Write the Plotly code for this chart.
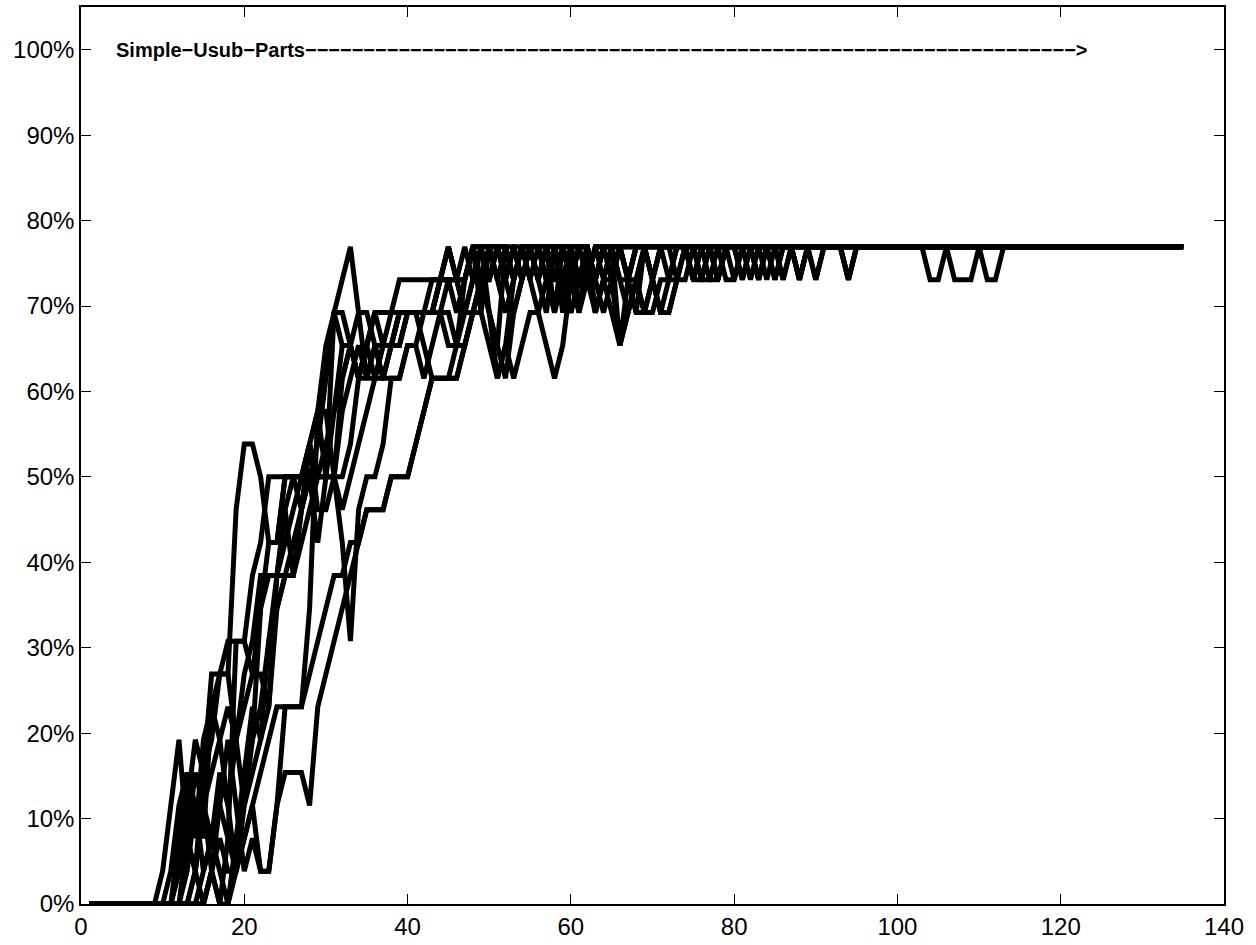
import plotly.graph_objects as go

# Parts solved (out of 26) per run, for generations 1..135
TOTAL_PARTS = 26
generations = list(range(1, 136))

run_01 = [0,0,0,0,0,0,0,0,0,1,3,5,2,1,4,
          5,7,7,12,14,14,13,11,11,13,13,12,13,14,16,
          18,18,17,16,17,18,17,18,18,18,18,18,18,18,19,
          18,19,20,19,20,20,19,20,19,20,20,19,20,20,19,
          20,20,19,20,20,20,20,20,20,20,20,20,20,20,20,
          20,20,20,20,20,20,20,20,20,20,20,20,20,20,20,
          20,20,20,20,20,20,20,20,20,20,20,20,20,20,20,
          20,20,20,20,20,20,20,20,20,20,20,20,20,20,20,
          20,20,20,20,20,20,20,20,20,20,20,20,20,20,20]
run_02 = [0,0,0,0,0,0,0,0,0,0,0,1,3,5,4,
          7,7,8,8,8,10,11,13,13,13,13,13,14,15,13,
          18,19,20,18,16,17,16,17,18,18,18,18,18,19,20,
          19,20,19,20,18,17,20,19,20,20,20,19,20,18,20,
          20,19,20,20,19,20,20,20,20,20,20,20,20,20,20,
          20,20,20,20,20,20,20,20,20,20,20,20,20,20,20,
          20,20,20,20,20,20,20,20,20,20,20,20,20,20,20,
          20,20,20,20,20,20,20,20,20,20,20,20,20,20,20,
          20,20,20,20,20,20,20,20,20,20,20,20,20,20,20]
run_03 = [0,0,0,0,0,0,0,0,0,0,0,0,1,3,1,
          2,4,3,5,6,7,9,10,10,12,10,12,13,11,13,
          13,11,8,12,13,13,14,16,16,17,17,16,17,18,18,
          17,19,20,18,20,19,18,19,20,20,19,20,18,20,19,
          20,20,19,20,20,20,19,20,20,20,20,20,20,20,20,
          20,20,20,20,20,20,20,20,20,20,20,20,20,20,20,
          20,20,20,20,20,20,20,20,20,20,20,20,20,20,20,
          20,20,20,20,20,20,20,20,20,20,20,20,20,20,20,
          20,20,20,20,20,20,20,20,20,20,20,20,20,20,20]
run_04 = [0,0,0,0,0,0,0,0,0,0,0,0,0,0,0,
          1,0,0,1,2,3,1,1,3,4,4,4,3,6,7,
          8,9,10,11,12,12,12,13,13,13,14,15,16,16,16,
          16,17,18,19,18,17,16,18,19,20,19,18,20,19,20,
          19,20,18,19,20,17,19,18,20,19,18,19,20,20,20,
          20,20,19,20,20,20,20,19,20,20,20,20,20,20,20,
          20,20,20,20,20,20,20,20,20,20,20,20,20,20,20,
          20,20,20,20,20,20,20,20,20,20,20,20,20,20,20,
          20,20,20,20,20,20,20,20,20,20,20,20,20,20,20]
run_05 = [0,0,0,0,0,0,0,0,0,0,0,0,0,1,0,
          1,3,5,3,1,2,1,1,3,6,6,6,9,15,15,
          13,12,13,14,15,16,17,17,18,18,18,18,18,19,19,
          19,19,20,19,18,16,17,19,20,19,18,17,16,17,19,
          18,20,19,18,19,17,18,19,20,19,18,18,19,20,19,
          19,20,19,20,20,19,20,20,20,19,20,20,19,20,20,
          20,20,20,20,20,20,20,20,20,20,20,20,20,20,20,
          20,20,20,20,20,20,20,20,20,20,20,20,20,20,20,
          20,20,20,20,20,20,20,20,20,20,20,20,20,20,20]
run_06 = [0,0,0,0,0,0,0,0,0,0,0,0,0,0,1,
          2,1,0,2,4,5,6,8,10,10,11,12,14,13,13,
          13,15,16,17,16,17,17,17,17,18,18,18,18,19,20,
          19,18,19,19,20,20,19,20,20,19,20,20,19,19,18,
          19,19,20,20,19,20,19,19,18,18,19,19,20,20,19,
          20,20,19,20,19,20,20,19,20,20,19,20,19,20,19,
          20,20,20,19,20,20,20,20,20,20,20,20,20,20,20,
          20,20,20,20,20,20,20,20,20,20,20,20,20,20,20,
          20,20,20,20,20,20,20,20,20,20,20,20,20,20,20]
run_07 = [0,0,0,0,0,0,0,0,0,0,1,3,4,2,5,
          6,7,7,5,3,5,9,11,11,13,13,13,14,15,17,
          18,17,17,16,17,16,16,17,18,18,18,18,19,19,19,
          19,19,20,20,20,20,19,20,19,20,19,20,20,20,19,
          20,20,19,20,20,19,19,20,20,20,20,20,20,20,20,
          20,20,20,20,20,20,20,20,20,20,20,20,20,20,20,
          20,20,20,20,20,20,20,20,20,20,20,20,20,20,20,
          20,20,20,20,20,20,20,20,20,20,20,20,20,20,20,
          20,20,20,20,20,20,20,20,20,20,20,20,20,20,20]
run_08 = [0,0,0,0,0,0,0,0,0,0,0,0,2,4,3,
          1,0,2,8,8,7,7,6,9,10,10,12,14,12,12,
          13,16,17,16,16,16,17,17,17,18,18,17,16,16,16,
          17,18,18,19,19,20,20,19,20,20,20,19,20,20,19,
          20,20,18,19,19,20,19,18,18,19,20,20,20,20,20,
          20,20,20,20,20,20,20,20,20,20,20,20,20,20,20,
          20,20,20,20,20,20,20,20,20,20,20,20,20,20,20,
          20,20,20,20,20,20,20,20,20,20,20,20,20,20,20,
          20,20,20,20,20,20,20,20,20,20,20,20,20,20,20]
run_09 = [0,0,0,0,0,0,0,0,0,0,0,1,2,1,3,
          4,5,6,5,7,8,10,10,10,11,12,13,14,13,13,
          13,13,14,16,17,18,18,18,18,18,18,18,18,19,20,
          19,18,19,20,20,19,20,19,20,20,19,20,19,20,20,
          19,20,19,20,20,20,19,20,20,19,20,20,19,20,20,
          19,20,19,20,20,20,20,20,20,20,20,20,20,20,20,
          20,20,20,20,20,20,20,20,20,20,20,20,20,20,20,
          20,20,20,20,20,20,20,20,20,20,20,20,20,20,20,
          20,20,20,20,20,20,20,20,20,20,20,20,20,20,20]
run_10 = [0,0,0,0,0,0,0,0,0,0,0,0,0,0,0,
          1,2,1,1,2,3,4,5,6,6,6,6,7,8,9,
          10,10,11,11,12,12,12,13,13,13,14,15,16,16,16,
          16,17,18,18,17,16,17,16,17,18,18,19,18,19,18,
          19,19,20,19,18,17,18,19,18,19,18,18,19,19,20,
          19,19,20,19,19,20,19,20,19,20,19,20,19,20,20,
          20,20,20,19,20,20,20,20,20,20,20,20,20,20,20,
          20,20,20,20,20,20,20,20,20,20,20,20,20,20,20,
          20,20,20,20,20,20,20,20,20,20,20,20,20,20,20]
run_11 = [0,0,0,0,0,0,0,0,0,0,0,2,4,3,2,
          6,5,3,1,4,6,5,6,10,12,13,13,13,13,13,
          15,17,17,16,17,18,18,18,19,19,19,19,19,19,19,
          19,19,20,20,19,20,20,20,19,20,20,20,19,20,20,
          20,20,19,20,20,20,20,20,20,20,20,20,20,20,20,
          20,20,20,20,20,20,20,20,20,20,20,20,20,20,20,
          20,20,20,20,20,20,20,20,20,20,20,20,20,20,20,
          20,20,20,20,20,20,20,20,20,20,20,20,20,20,20,
          20,20,20,20,20,20,20,20,20,20,20,20,20,20,20]
run_12 = [0,0,0,0,0,0,0,0,0,0,0,0,0,1,3,
          2,3,2,1,3,4,5,8,9,10,10,11,12,13,14,
          15,16,17,18,18,17,16,16,16,17,17,18,18,18,17,
          17,17,18,19,19,20,19,18,19,20,19,20,20,19,20,
          18,19,18,19,20,19,18,19,20,19,20,19,19,20,19,
          20,19,19,20,20,19,20,19,20,19,20,20,19,20,19,
          20,20,20,19,20,20,20,20,20,20,20,20,20,19,19,
          20,19,19,19,20,19,19,20,20,20,20,20,20,20,20,
          20,20,20,20,20,20,20,20,20,20,20,20,20,20,20]

runs = [run_01, run_02, run_03, run_04, run_05, run_06,
        run_07, run_08, run_09, run_10, run_11, run_12]

x_tick_vals = [0, 20, 40, 60, 80, 100, 120, 140]
y_tick_vals = [0, 0.1, 0.2, 0.3, 0.4, 0.5, 0.6, 0.7, 0.8, 0.9, 1.0]
y_tick_text = ["0%", "10%", "20%", "30%", "40%", "50%",
               "60%", "70%", "80%", "90%", "100%"]

label_text = "Simple\u2212Usub\u2212Parts" + "\u2212" * 66 + ">"

fig = go.Figure()
for r in runs:
    assert len(r) == len(generations)
    fig.add_trace(go.Scatter(
        x=generations,
        y=[v / TOTAL_PARTS for v in r],
        mode="lines",
        line=dict(color="black", width=5),
        showlegend=False,
        hoverinfo="skip",
    ))

axis_common = dict(
    showgrid=False, zeroline=False,
    showline=True, linecolor="black", linewidth=1.5,
    mirror="ticks", ticks="inside", ticklen=10, tickwidth=1,
    tickcolor="black",
    tickfont=dict(family="Liberation Sans, Arial, sans-serif", size=24, color="black"),
)

fig.update_xaxes(range=[0, 140], tickvals=x_tick_vals, **axis_common)
fig.update_yaxes(range=[0, 1.05], tickvals=y_tick_vals, ticktext=y_tick_text, **axis_common)

fig.add_annotation(
    x=4.0, y=1.0, xref="x", yref="y",
    text=label_text, showarrow=False,
    xanchor="left", yanchor="middle",
    font=dict(family="Liberation Sans, Arial, sans-serif", size=20, color="black", weight="bold"),
)

fig.update_layout(
    width=1256, height=945,
    margin=dict(l=81, r=32, t=5, b=38),
    plot_bgcolor="white", paper_bgcolor="white",
    font=dict(family="Liberation Sans, Arial, sans-serif", color="black"),
)

fig.write_html("out.html", config={"displayModeBar": False},
               post_script="document.body.style.margin='0';")
